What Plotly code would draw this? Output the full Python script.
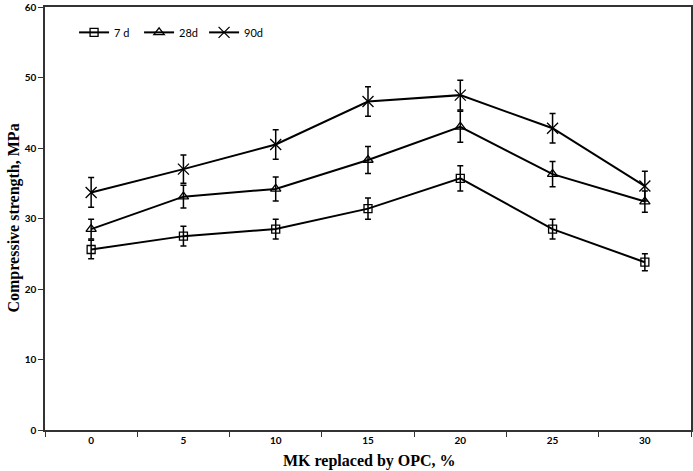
import plotly.graph_objects as go

categories = ["0", "5", "10", "15", "20", "25", "30"]
series_names = ["7 d", "28d", "90d"]
vals_7d = [25.6, 27.5, 28.5, 31.4, 35.7, 28.5, 23.8]
err_7d = [1.3, 1.4, 1.4, 1.5, 1.8, 1.4, 1.2]
vals_28d = [28.5, 33.1, 34.2, 38.3, 43.0, 36.3, 32.4]
err_28d = [1.4, 1.6, 1.7, 1.9, 2.2, 1.8, 1.5]
vals_90d = [33.7, 37.0, 40.5, 46.6, 47.5, 42.8, 34.6]
err_90d = [2.1, 2.0, 2.1, 2.1, 2.1, 2.1, 2.1]
y_ticks = [0, 10, 20, 30, 40, 50, 60]

symbols = ["square-open", "triangle-up-open", "x-thin-open"]
sizes = [8, 9, 11]
series_vals = [vals_7d, vals_28d, vals_90d]
series_err = [err_7d, err_28d, err_90d]

fig = go.Figure()
for name, v, e, s, sz in zip(series_names, series_vals, series_err, symbols, sizes):
    fig.add_trace(go.Scatter(
        x=categories, y=v, name=name, mode="lines+markers",
        line=dict(color="black", width=2),
        marker=dict(symbol=s, size=sz, color="black", line=dict(color="black", width=1.3)),
        error_y=dict(type="data", array=e, visible=True, color="black", thickness=1.5, width=3),
    ))

axis_line = "#333333"
fig.update_layout(
    width=693, height=471,
    margin=dict(l=45, r=2, t=7, b=41),
    plot_bgcolor="white", paper_bgcolor="white",
    showlegend=True,
    legend=dict(orientation="h", x=0.045, y=0.94, xanchor="left", yanchor="middle",
                font=dict(family="Lato", size=11, color="black"),
                bgcolor="rgba(0,0,0,0)", entrywidth=20, tracegroupgap=0, itemwidth=30),
    xaxis=dict(type="category", categoryorder="array", categoryarray=categories,
               range=[-0.5, 6.5], tickson="boundaries", ticks="outside", ticklen=5,
               tickcolor=axis_line, tickwidth=1.2, automargin=False,
               showline=True, linecolor=axis_line, linewidth=1.5, mirror=True,
               showgrid=False, zeroline=False,
               tickfont=dict(family="Lato", size=10, color="black", weight="bold")),
    yaxis=dict(range=[0, 60.001], tickvals=y_ticks, ticks="outside", ticklen=5,
               tickcolor=axis_line, tickwidth=1.2, ticklabeloverflow="allow",
               automargin=False,
               showline=True, linecolor=axis_line, linewidth=1.5, mirror=True,
               showgrid=False, zeroline=False,
               tickfont=dict(family="Lato", size=10, color="black", weight="bold")),
    annotations=[
        dict(text="<b>Compressive strength, MPa</b>", xref="paper", yref="paper",
             x=-0.0495, y=0.5, xanchor="center", yanchor="middle", textangle=-90,
             showarrow=False, font=dict(family="Liberation Serif", size=16, color="black")),
        dict(text="<b>MK replaced by OPC, %</b>", xref="paper", yref="paper",
             x=0.502, y=-0.073, xanchor="center", yanchor="middle",
             showarrow=False, font=dict(family="Liberation Serif", size=16, color="black")),
    ],
)

fig.write_html("out.html")
